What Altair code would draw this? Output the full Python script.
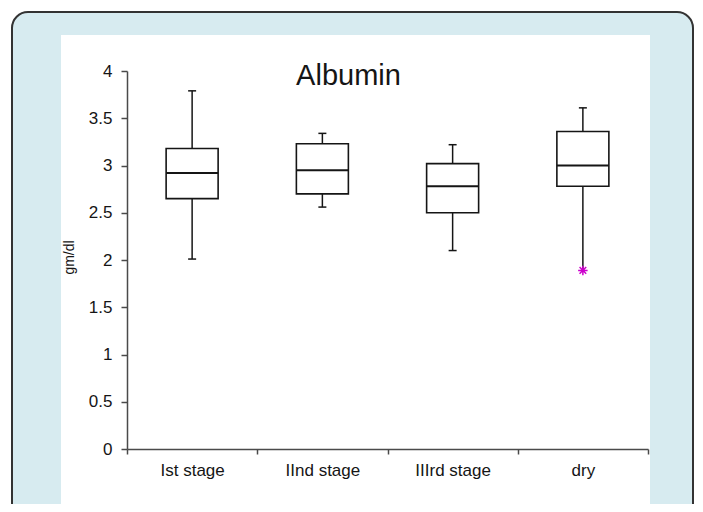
import altair as alt
import pandas as pd

# ---- data ----
categories = ["Ist stage", "IInd stage", "IIIrd stage", "dry"]
whisker_low = [2.01, 2.56, 2.10, 1.89]
q1 = [2.65, 2.70, 2.50, 2.78]
median = [2.92, 2.95, 2.78, 3.00]
q3 = [3.18, 3.23, 3.02, 3.36]
whisker_high = [3.79, 3.34, 3.22, 3.61]
outlier_cat = ["dry"]
outlier_val = [1.89]
y_ticks = [0, 0.5, 1, 1.5, 2, 2.5, 3, 3.5, 4]

df = pd.DataFrame({"cat": categories, "lo": whisker_low, "q1": q1,
                   "med": median, "q3": q3, "hi": whisker_high})
caps = pd.DataFrame({
    "cat": categories + categories[:3],
    "v": whisker_high + whisker_low[:3],
})
outl = pd.DataFrame({"cat": outlier_cat, "v": outlier_val})

FONT = "Liberation Sans"
INK = "#151515"
AX = "#4a4a4a"

xaxis = alt.Axis(labelAngle=0, tickBand="extent", labelFontSize=17,
                 labelPadding=8, tickSize=5, zindex=2, domainColor=AX,
                 tickColor=AX, domainWidth=1.5, tickWidth=1.5, labelFont=FONT,
                 labelColor=INK, grid=False)
yaxis = alt.Axis(values=y_ticks, format="~g", labelFontSize=17, labelPadding=9,
                 tickSize=6, zindex=2, domainColor=AX, tickColor=AX,
                 domainWidth=1.5, tickWidth=1.5, labelFont=FONT, labelColor=INK,
                 grid=False, titleFont=FONT, titleColor=INK, titleFontSize=14,
                 titleFontWeight="normal", titleAngle=270, titleX=-54, titleY=186,
                 titleAlign="center", titleBaseline="alphabetic")

xenc = alt.X("cat:N", sort=categories, title=None,
             scale=alt.Scale(paddingInner=0, paddingOuter=0), axis=xaxis)
yscale = alt.Scale(domain=[0, 4], nice=False)

def Y(field):
    return alt.Y(field, type="quantitative", scale=yscale, title="gm/dl", axis=yaxis)

one = pd.DataFrame({"k": [0]})

frame_blue = alt.Chart(one).mark_rect(
    fill="#d7ebf0", stroke="#333333", strokeWidth=2, cornerRadius=16
).encode(x=alt.value(-115), x2=alt.value(566), y=alt.value(-59), y2=alt.value(520))

frame_white = alt.Chart(one).mark_rect(fill="white").encode(
    x=alt.value(-66), x2=alt.value(523), y=alt.value(-36), y2=alt.value(520))

base = alt.Chart(df).encode(x=xenc)
whisk = base.mark_rule(color=INK, strokeWidth=1.5).encode(y=Y("lo"), y2="hi")
box = base.mark_bar(size=52, fill="white", stroke=INK, strokeWidth=1.6).encode(
    y=Y("q1"), y2="q3")
med = base.mark_tick(size=52, thickness=2, color=INK, opacity=1).encode(y=Y("med"))
cap = alt.Chart(caps).mark_tick(size=8, thickness=1.5, color=INK, opacity=1).encode(
    x=xenc, y=Y("v"))
star_path = "M-1,0L1,0M0,-1L0,1M-0.7,-0.7L0.7,0.7M-0.7,0.7L0.7,-0.7"
out = alt.Chart(outl).mark_point(shape=star_path, size=90, filled=False,
                                 stroke="#cc00cc", strokeWidth=1.5, opacity=1).encode(
    x=xenc, y=Y("v"))

chart = alt.layer(frame_blue, frame_white, whisk, box, med, cap, out).properties(
    width=521, height=378,
    autosize=alt.AutoSizeParams(type="none"),
    padding={"left": 119, "top": 63, "right": 47, "bottom": 55},
    background="white",
    title=alt.TitleParams("Albumin", fontSize=29, font=FONT, fontWeight="normal",
                          color=INK, anchor="middle", dx=-39, dy=103, offset=0,
                          baseline="alphabetic", zindex=2),
).configure_view(stroke=None, fill=None)

chart.save("out.html", embed_options={"renderer": "svg", "actions": False})
